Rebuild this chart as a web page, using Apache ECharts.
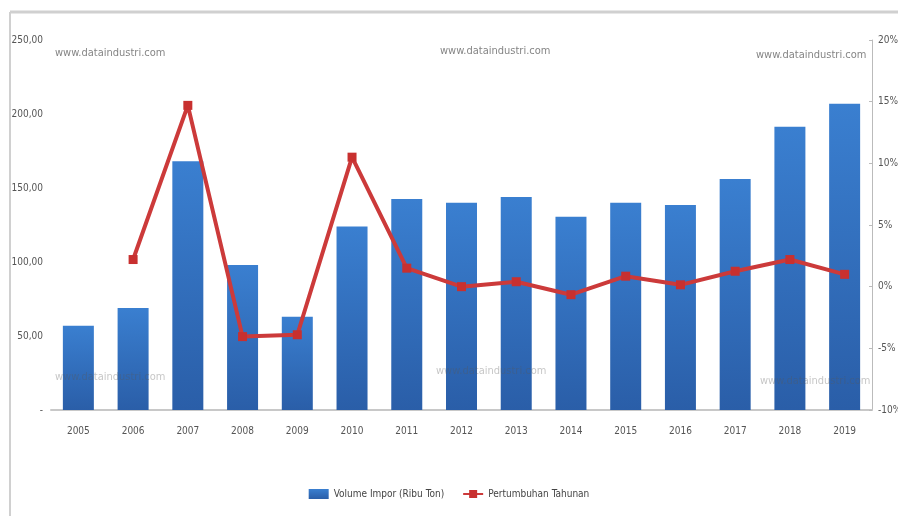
<!DOCTYPE html>
<html>
<head>
<meta charset="utf-8">
<script src="https://cdn.jsdelivr.net/npm/echarts@6/dist/echarts.min.js"></script>
<style>
  body { margin: 0; background: #fff; }
  #chart { width: 898px; height: 516px; }
</style>
</head>
<body>
<div id="chart"></div>
<script>
// data
var years = ['2005', '2006', '2007', '2008', '2009', '2010', '2011', '2012', '2013', '2014', '2015', '2016', '2017', '2018', '2019'];
var volumeImpor = [57, 69, 168, 98, 63, 124, 142.5, 140, 144, 130.6, 140, 138.5, 156, 191.4, 207];
var pertumbuhan = [null, 2.2, 14.7, -4.05, -3.9, 10.5, 1.5, 0, 0.4, -0.65, 0.85, 0.15, 1.25, 2.2, 1.0];
var leftTicks = { min: 0, max: 250, step: 50 };
var rightTicks = { min: -10, max: 20, step: 5 };

var narrow = '"Liberation Sans Narrow", "DejaVu Sans Condensed", "Liberation Sans", sans-serif';

var myChart = echarts.init(document.getElementById('chart'));

function watermark(x, y, alpha) {
	return {
		type: 'text',
		left: x,
		top: y,
		z: 100,
		style: {
			text: 'www.dataindustri.com',
			font: '11px ' + narrow,
			fill: 'rgba(90,90,90,' + alpha + ')'
		}
	};
}

option = {
	animation: false,
	grid: {
		left: 51,
		right: 26,
		top: 40,
		bottom: 106,
		outerBoundsMode: 'none'
	},
	legend: {
		left: 'center',
		top: 484,
		itemGap: 18,
		itemWidth: 20,
		itemHeight: 10,
		textStyle: { fontFamily: narrow, fontSize: 10, color: '#444' },
		data: [
			{ name: 'Volume Impor (Ribu Ton)', icon: 'rect' },
			{ name: 'Pertumbuhan Tahunan' }
		]
	},
	xAxis: {
		type: 'category',
		data: years,
		axisLine: { lineStyle: { color: '#c8c8c8', width: 2 } },
		axisTick: { show: false },
		axisLabel: { fontFamily: narrow, fontSize: 10, color: '#555', margin: 16 }
	},
	yAxis: [
		{
			type: 'value',
			min: leftTicks.min,
			max: leftTicks.max,
			interval: leftTicks.step,
			splitLine: { show: false },
			axisLine: { show: false },
			axisTick: { show: false },
			axisLabel: {
				fontFamily: narrow,
				fontSize: 10,
				color: '#555',
				margin: 8,
				formatter: function (v) {
					return v === 0 ? '-' : v.toFixed(2).replace('.', ',');
				}
			}
		},
		{
			type: 'value',
			min: rightTicks.min,
			max: rightTicks.max,
			interval: rightTicks.step,
			splitLine: { show: false },
			axisLine: { show: true, lineStyle: { color: '#bbb' } },
			axisTick: { show: true, inside: true, length: 3, lineStyle: { color: '#bbb' } },
			axisLabel: {
				fontFamily: narrow,
				fontSize: 10,
				color: '#555',
				margin: 6,
				formatter: '{value}%'
			}
		}
	],
	graphic: [
		{ type: 'line', shape: { x1: 10, y1: 12, x2: 898, y2: 12 }, style: { stroke: '#d0d0d0', lineWidth: 3 } },
		{ type: 'line', shape: { x1: 10, y1: 12, x2: 10, y2: 516 }, style: { stroke: '#d0d0d0', lineWidth: 2 } },
		watermark(55, 48, 0.75),
		watermark(440, 46, 0.75),
		watermark(756, 50, 0.75),
		watermark(55, 372, 0.35),
		watermark(436, 366, 0.35),
		watermark(760, 376, 0.35)
	],
	series: [
		{
			name: 'Volume Impor (Ribu Ton)',
			type: 'bar',
			yAxisIndex: 0,
			barWidth: 31,
			data: volumeImpor,
			itemStyle: {
				color: new echarts.graphic.LinearGradient(0, 0, 0, 1, [
					{ offset: 0, color: '#3a7fd0' },
					{ offset: 1, color: '#2a5ea8' }
				])
			}
		},
		{
			name: 'Pertumbuhan Tahunan',
			type: 'line',
			yAxisIndex: 1,
			data: pertumbuhan,
			symbol: 'rect',
			symbolSize: 9,
			lineStyle: { color: '#cc3a3a', width: 4 },
			itemStyle: { color: '#c8302f' }
		}
	]
};

myChart.setOption(option);
</script>
</body>
</html>
